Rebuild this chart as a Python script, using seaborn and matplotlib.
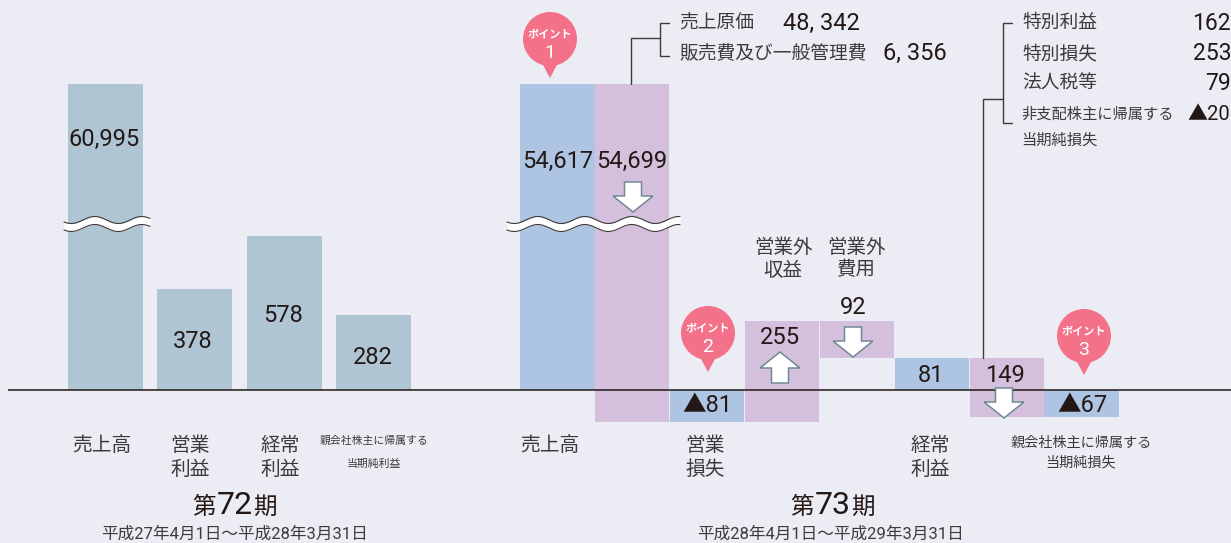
import numpy as np
import matplotlib
matplotlib.use("Agg")
import matplotlib.pyplot as plt
from matplotlib.patches import Circle, Polygon
from matplotlib.scale import FuncScale
import seaborn as sns

# ---- data ----
left_categories = ["売上高", "営業\n利益", "経常\n利益", "親会社株主に帰属する\n当期純利益"]
left_values = [60995, 378, 578, 282]
left_labels = ["60,995", "378", "578", "282"]

right_categories = ["売上高", "売上原価・販管費", "営業\n損失", "営業外\n収益", "営業外\n費用",
                    "経常\n利益", "特別損益等", "親会社株主に帰属する\n当期純損失"]
right_starts = [0, 54617, 0, -81, 174, 0, 81, 0]
right_deltas = [54617, -54699, -81, 255, -92, 81, -149, -67]
right_labels = ["54,617", "54,699", "▲81", "255", "92", "81", "149", "▲67"]
right_kinds = ["blue", "purple", "blue", "purple", "purple", "blue", "purple", "blue"]
right_tick_idx = [0, 2, 5, 7]

cost_items = [("売上原価", "48, 342"), ("販売費及び一般管理費", "6, 356")]
other_items = ["特別利益", "特別損失", "法人税等", "非支配株主に帰属する\n当期純損失"]
other_values = ["162", "253", "79", "▲20"]

# ---- style ----
BG = "#EBECF4"
STEEL = "#AFC5D3"
COL = {"blue": "#ADC4E3", "purple": "#D4BFDC"}
PINK = "#F37189"
DARK = "#231815"
GREY = "#3E3A39"
ARW = "#6F8A94"
W, H = 1231, 543
BASE = 390
BOTTOM = 425

sns.set_theme(style="white", rc={"figure.facecolor": BG, "savefig.facecolor": BG})
FONT = ["Roboto", "Noto Sans CJK JP", "DejaVu Sans"]
plt.rcParams["font.family"] = FONT

fig = plt.figure(figsize=(W / 100, H / 100), dpi=100)


def make_scale(k, brk, top_val, top_px=306):
    c = (top_px - brk * k) / (top_val - brk)

    def fwd(y):
        y = np.asarray(y, dtype=float)
        return np.where(y <= brk, y * k, brk * k + (y - brk) * c)

    def inv(p):
        p = np.asarray(p, dtype=float)
        return np.where(p <= brk * k, p / k, brk + (p - brk * k) / c)

    return fwd, inv


def panel(x0, x1, center0, step, bar_px, cats, heights, bottoms, colors, k, brk, top_val):
    ax = fig.add_axes([x0 / W, 1 - BOTTOM / H, (x1 - x0) / W, BOTTOM / H])
    ax.patch.set_alpha(0)
    sns.barplot(x=cats, y=heights, bottom=bottoms, order=cats, color=colors[0],
                width=bar_px / step, errorbar=None, saturation=1, ax=ax, linewidth=0)
    for patch, c in zip(ax.patches, colors):
        patch.set_facecolor(c)
    fwd, inv = make_scale(k, brk, top_val)
    ax.set_yscale(FuncScale(ax, (fwd, inv)))
    ax.set_ylim(float(inv(BASE - BOTTOM)), float(inv(BASE)))
    ax.set_xlim((x0 - center0) / step, (x1 - center0) / step)
    ax.set_yticks([])
    ax.minorticks_off()
    ax.set_ylabel("")
    ax.set_xlabel("")
    sns.despine(ax=ax, left=True, bottom=True)
    ax.axhline(0, color=DARK, lw=1.1, zorder=5)
    return ax


axL = panel(8, 480, 105.0, 89.5, 75, left_categories, left_values,
            [0] * 4, [STEEL] * 4, 0.266, 1000, left_values[0])
axR = panel(480, W, 557.3, 74.9, 74.4, right_categories, right_deltas,
            right_starts, [COL[k] for k in right_kinds], 0.396, 600, right_starts[1])

TICK = dict(color=GREY, linespacing=1.3)
axL.set_xticks(np.arange(4) + np.array([-0.04, -0.05, -0.04, 0.0]))
axL.set_xticklabels(left_categories, **TICK)
axR.set_xticks(np.array(right_tick_idx) + np.array([-0.1, -0.03, -0.02, -0.01]))
axR.set_xticklabels([right_categories[i] for i in right_tick_idx], **TICK)
for ax in (axL, axR):
    ax.tick_params(axis="x", length=0, pad=8)
    for t in ax.get_xticklabels():
        t.set_fontsize(14.2)
        t.set_family(FONT)
axL.get_xticklabels()[3].set_fontsize(7.8)
axL.get_xticklabels()[3].set_linespacing(2.5)
axR.get_xticklabels()[3].set_fontsize(10.2)
axR.get_xticklabels()[3].set_linespacing(1.5)

# overlay in pixel coordinates for annotations
ov = fig.add_axes([0, 0, 1, 1], zorder=10)
ov.set_xlim(0, W)
ov.set_ylim(H, 0)
ov.axis("off")
ov.patch.set_alpha(0)


def txt(x, y, s, size=17, color=DARK, ha="center", **kw):
    return ov.text(x, y + 2, s, fontsize=size, color=color, ha=ha, va="center", **kw)


def wave(x0, x1, yc=224, amp=3.5, period=47, thick=8, phase=0.0):
    xs = np.linspace(x0, x1, 300)
    ys = yc + amp * np.sin(2 * np.pi * (xs - x0) / period + phase)
    ov.fill_between(xs, ys - thick / 2, ys + thick / 2, color="white", lw=0, zorder=2)
    ov.plot(xs, ys - thick / 2, color=GREY, lw=0.8, zorder=3)
    ov.plot(xs, ys + thick / 2, color=GREY, lw=0.8, zorder=3)


def arrow(cx, tail, tip):
    s = 1 if tip > tail else -1
    neck = tip - s * 16
    pts = [(cx - 8.5, tail), (cx + 8.5, tail), (cx + 8.5, neck), (cx + 20, neck),
           (cx, tip), (cx - 20, neck), (cx - 8.5, neck)]
    ov.add_patch(Polygon(pts, closed=True, fc="white", ec=ARW, lw=1.1, zorder=6))


def bubble(cx, cy, tip, n):
    ov.add_patch(Polygon([(cx - 8, cy + 24), (cx + 8, cy + 24), (cx, tip)], fc=PINK, lw=0, zorder=6))
    ov.add_patch(Circle((cx, cy), 27, fc=PINK, lw=0, zorder=6))
    txt(cx, cy - 6, "ポイント", size=8, color="white", zorder=7, fontweight="bold")
    txt(cx, cy + 12, n, size=14, color="white", zorder=7)


def path(xs, ys):
    ov.plot(xs, ys, color=GREY, lw=1.0, solid_joinstyle="miter", zorder=4)


wave(64, 150, phase=0.6)
wave(507, 680, phase=0.6)

arrow(633, 182, 212)
arrow(780, 383, 352)
arrow(853, 327, 357)
arrow(1004, 388, 418)

bubble(550, 39, 78, "1")
bubble(708, 333, 372, "2")
bubble(1084, 336, 375, "3")

# bar value labels
for x, y, s in zip([104, 193, 283, 373], [137, 340, 314, 355], left_labels):
    txt(x, y, s, zorder=7)
right_label_x = [558, 632, 707, 780, 853, 931, 1005, 1082]
right_label_y = [159, 159, 403, 335, 305, 373, 373, 403]
for x, y, s in zip(right_label_x, right_label_y, right_labels):
    txt(x, y, s, zorder=7)

# upper labels for non-operating items
txt(783, 257, right_categories[3], size=14, color=GREY, linespacing=1.3)
txt(856, 257, right_categories[4], size=14, color=GREY, linespacing=1.3)

# cost bracket
path([631, 631, 660], [84, 38, 38])
path([669, 660, 660, 669], [23, 23, 56, 56])
for y, (lab, val), vx in zip([21, 51], cost_items, [783, 883]):
    txt(679, y, lab, size=13.5, color=GREY, ha="left")
    txt(vx, y, val, size=17, ha="left")

# other items bracket
path([983, 983, 1003], [358, 99, 99])
path([1012, 1003, 1003, 1012], [23, 23, 123, 123])
for y, lab, val in zip([21, 52, 82], other_items[:3], other_values[:3]):
    txt(1022, y, lab, size=13.5, color=GREY, ha="left")
    txt(1231, y, val, size=16.5, ha="right")
first, second = other_items[3].split("\n")
txt(1021, 113, first, size=11, color=GREY, ha="left")
txt(1021, 139, second, size=11, color=GREY, ha="left")
txt(1230, 113, other_values[3], size=14.5, ha="right")

# period titles
for dx, num, date, cx in [(0, "72", "平成27年4月1日～平成28年3月31日", 235),
                          (598, "73", "平成28年4月1日～平成29年3月31日", 830)]:
    txt(216 + dx, 505, "第", size=17, ha="right")
    txt(235 + dx, 503, num, size=23)
    txt(253 + dx, 505, "期", size=17, ha="left")
    txt(cx, 532, date, size=12, color=GREY)

fig.savefig("out.png", dpi=100, facecolor=BG)
